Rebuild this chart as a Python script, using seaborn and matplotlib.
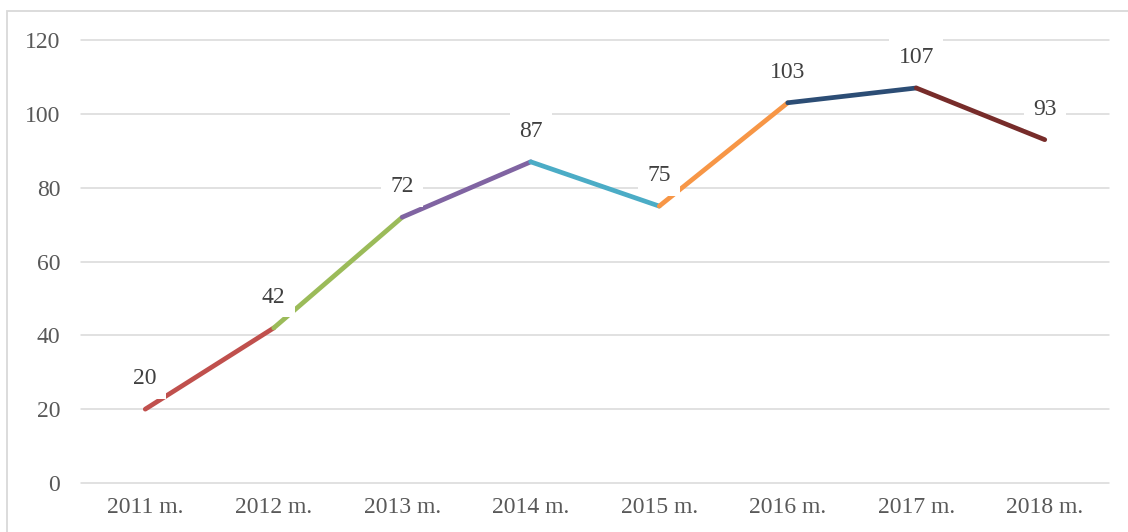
import pandas as pd
import numpy as np
import matplotlib
matplotlib.use("Agg")
import matplotlib.pyplot as plt
import seaborn as sns
from matplotlib.patches import Rectangle

# data
years = ["2011 m.", "2012 m.", "2013 m.", "2014 m.", "2015 m.", "2016 m.", "2017 m.", "2018 m."]
values = [20, 42, 72, 87, 75, 103, 107, 93]
# colour of the segment leading into each point (Excel "vary colours by point")
seg_colors = ["#C0504D", "#9BBB59", "#8064A2", "#4BACC6", "#F79646", "#2C4D75", "#772C2A"]

# long table: one pair of rows per segment
rows = []
for i in range(len(values) - 1):
    rows.append({"seg": i, "x": i, "y": values[i]})
    rows.append({"seg": i, "x": i + 1, "y": values[i + 1]})
df = pd.DataFrame(rows)

sns.set_theme(style="white")
plt.rcParams["font.family"] = ["Liberation Serif", "DejaVu Serif"]

fig = plt.figure(figsize=(11.28, 5.32), dpi=100)
ax = fig.add_axes([81 / 1128, 1 - 483 / 532, (1109 - 81) / 1128, (483 - 40) / 532])

sns.lineplot(
    data=df, x="x", y="y", hue="seg", palette=seg_colors,
    sort=False, estimator=None, legend=False, ax=ax,
    linewidth=3.4, solid_capstyle="round", zorder=3,
)

ax.set_xlim(-0.5, len(years) - 0.5)
ax.set_ylim(0, 120)
ax.set_yticks(np.arange(0, 121, 20))
ax.set_xticks(range(len(years)))
ax.set_xticklabels(years)
ax.set_xlabel("")
ax.set_ylabel("")
ax.yaxis.grid(True, color="#D9D9D9", linewidth=1.1)
ax.xaxis.grid(False)
ax.set_axisbelow(True)
for gl in ax.get_ygridlines():
    gl.set_clip_on(False)
for s in ax.spines.values():
    s.set_visible(False)
ax.tick_params(axis="y", length=0, pad=15, labelsize=17, labelcolor="#595959")
ax.tick_params(axis="x", length=0, pad=10, labelsize=17, labelcolor="#595959")

# data labels with white boxes above each point
for i, v in enumerate(values):
    ax.annotate(
        str(v), xy=(i, v), xytext=(0, 22), textcoords="offset points",
        ha="center", va="center", fontsize=17, color="#404040", zorder=5,
        bbox=dict(boxstyle="square,pad=0.4", facecolor="white", edgecolor="none"),
    )

# chart frame (right and bottom edges fall outside the image)
fig.patches.append(Rectangle(
    (7 / 1128, -0.1), 1.1, 1 - 11 / 532 + 0.1, transform=fig.transFigure,
    fill=False, edgecolor="#D9D9D9", linewidth=1.3, zorder=0,
))

fig.savefig("out.png", dpi=100)
